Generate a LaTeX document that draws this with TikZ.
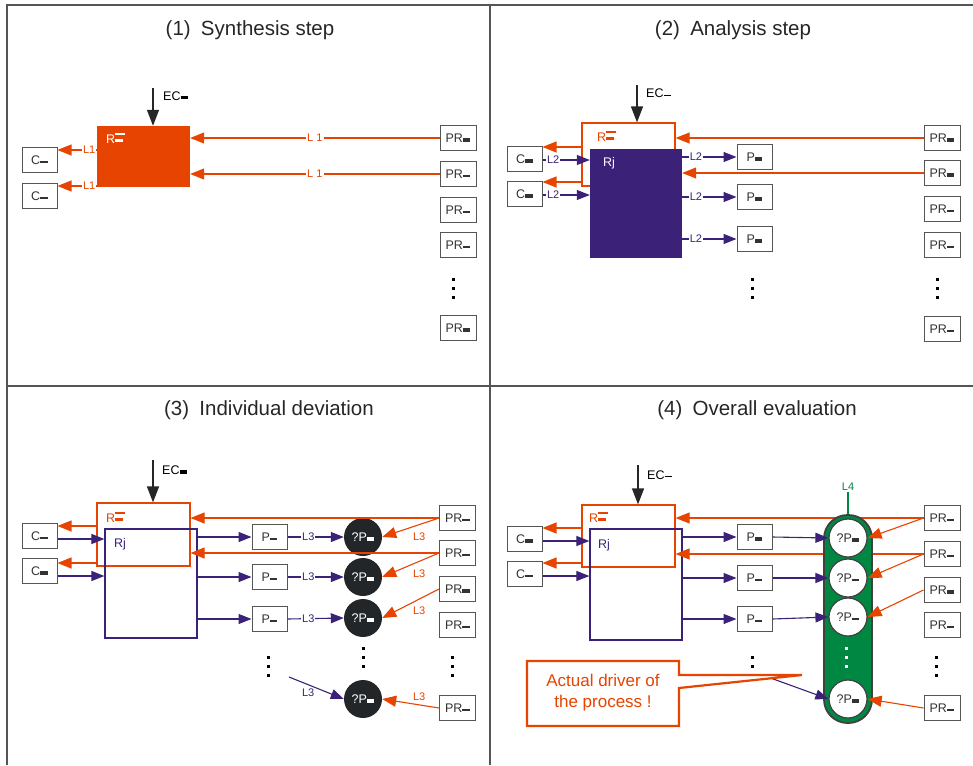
\documentclass[tikz,border=0pt]{standalone}
\usepackage{fontspec}
\setmainfont{Liberation Sans}
\usetikzlibrary{arrows.meta}
\definecolor{orng}{RGB}{230,68,0}
\definecolor{purp}{RGB}{59,34,120}
\definecolor{dark}{RGB}{35,38,41}
\definecolor{grn}{RGB}{0,135,65}
\definecolor{frm}{RGB}{85,85,85}
% little bars standing for the hidden subscripts
\newcommand{\blk}{\rule[0.5pt]{7.5pt}{3.4pt}}
\newcommand{\thn}{\rule[1.8pt]{7.5pt}{1.6pt}}
\newcommand{\rbars}{\rlap{\rule[8pt]{10pt}{1.7pt}}\rule[1pt]{8pt}{3.2pt}}
\begin{document}
\begin{tikzpicture}[x=1pt,y=-1pt,
	box/.style={draw=frm,line width=1pt,fill=white,minimum width=35pt,minimum height=25pt,inner sep=0pt,text=black!80,font=\fontsize{12.5}{14}\selectfont},
	circ/.style={circle,minimum size=38pt,inner sep=0pt,font=\fontsize{12.5}{14}\selectfont},
	tag/.style={anchor=base west,inner sep=0pt,font=\fontsize{12.5}{14}\selectfont},
	lab/.style={fill=white,inner sep=1pt,font=\fontsize{11}{13}\selectfont},
	ttl/.style={text=black!85,font=\fontsize{20.5}{24}\selectfont},
	oarr/.style={orng,line width=1.1pt,-{Triangle[length=14pt,width=11pt]}},
	parr/.style={purp,line width=1.1pt,-{Triangle[length=13pt,width=10pt]}},
	ecarr/.style={black!85,line width=1.3pt,-{Triangle[length=16pt,width=12pt]}}]
\useasboundingbox (0,0) rectangle (973,765);
\draw[frm,line width=1.5pt] (7,765) -- (7,5) -- (973,5) (490,5) -- (490,765) (7,386) -- (973,386);
\node[ttl] (t1) at (250,30) {(1)\enspace Synthesis step};
\node[ttl] (t2) at (733,30) {(2)\enspace Analysis step};
\node[ttl] (t3) at (269,410) {(3)\enspace Individual deviation};
\node[ttl] (t4) at (757,410) {(4)\enspace Overall evaluation};

% (1) synthesis
\node[fill=orng,minimum width=93pt,minimum height=61pt,inner sep=0pt] (r1) at (143.5,156.5) {};
\node[tag,text=white] (r1l) at (106,143) {R\rbars};
\node[box] (c11) at (39.5,160) {C\thn};
\node[box] (c12) at (39.5,196) {C\thn};
\foreach \y/\s [count=\i] in {138/\blk,174/\thn,210/\thn,245/\thn,328/\blk}
	\node[box,minimum width=36pt] (pr1\i) at (458,\y) {PR\s};
\foreach \d in {0,9,18} \fill (452,278+\d) rectangle +(3,3);
\coordinate (ec1) at (153,88);
\draw[ecarr] (ec1) -- (ec1 |- r1.north);
\node[tag] (ec1l) at (163,100) {EC\blk};
\draw[oarr] (r1.west |- 0,150) -- (c11.east |- 0,150) node[lab,pos=0,anchor=east,text=orng]{L1};
\draw[oarr] (r1.west |- 0,186) -- (c12.east |- 0,186) node[lab,pos=0,anchor=east,text=orng]{L1};
\draw[oarr] (pr11.west) -- (pr11.west -| r1.east) node[lab,midway,text=orng]{L 1};
\draw[oarr] (pr12.west) -- (pr12.west -| r1.east) node[lab,midway,text=orng]{L 1};

% (2) analysis
\node[draw=orng,line width=1.2pt,minimum width=93pt,minimum height=63pt,inner sep=0pt] (r2) at (628.5,154.5) {};
\node[fill=purp,minimum width=92pt,minimum height=109pt,inner sep=0pt] (rj2) at (636,203.5) {};
\node[tag,text=orng] (r2l) at (597,141) {R\rbars};
\node[tag,text=white] (rj2l) at (603,166) {Rj};
\node[box] (c21) at (524.5,159) {C\blk};
\node[box] (c22) at (524.5,194) {C\blk};
\foreach \y [count=\i] in {157,197,239}
	\node[box] (p2\i) at (754.5,\y) {P\blk};
\foreach \y/\s [count=\i] in {138/\blk,173/\blk,209/\thn,245/\thn,329/\thn}
	\node[box,minimum width=36pt] (pr2\i) at (942,\y) {PR\s};
\foreach \x in {751,936} \foreach \d in {0,9,18} \fill (\x,278+\d) rectangle +(3,3);
\coordinate (ec2) at (637,85);
\draw[ecarr] (ec2) -- (ec2 |- r2.north);
\node[tag] (ec2l) at (646,98) {EC\thn};
\draw[oarr] (r2.west |- 0,147) -- (c21.east |- 0,147);
\draw[oarr] (r2.west |- 0,182) -- (c22.east |- 0,182);
\draw[parr] (c21.east |- 0,160) -- (rj2.west |- 0,160) node[lab,pos=0,anchor=west,xshift=3pt,text=purp]{L2};
\draw[parr] (c22.east |- 0,195) -- (rj2.west |- 0,195) node[lab,pos=0,anchor=west,xshift=3pt,text=purp]{L2};
\foreach \i in {1,2,3}
	\draw[parr] (rj2.east |- p2\i) -- (p2\i.west) node[lab,pos=0,anchor=west,xshift=6pt,text=purp]{L2};
\draw[oarr] (pr21.west) -- (pr21.west -| r2.east);
\draw[oarr] (pr22.west) -- (pr22.west -| rj2.east);

% (3) individual deviation
\node[draw=orng,line width=1.2pt,minimum width=93pt,minimum height=63pt,inner sep=0pt] (r3) at (143.5,534.5) {};
\node[draw=purp,line width=1.2pt,minimum width=92pt,minimum height=109pt,inner sep=0pt] (rj3) at (151,583.5) {};
\node[tag,text=orng] (r3l) at (106,522) {R\rbars};
\node[tag,text=purp] (rj3l) at (114,547) {Rj};
\node[box] (c31) at (39.5,536) {C\thn};
\node[box] (c32) at (39.5,571) {C\blk};
\foreach \y [count=\i] in {537,577,619}
	\node[box] (p3\i) at (269.5,\y) {P\thn};
\foreach \y [count=\i] in {537,577,618,699}
	\node[circ,fill=dark,text=white] (q3\i) at (363,\y) {?P\blk};
\foreach \y/\s [count=\i] in {518/\thn,553/\thn,589/\blk,625/\thn,708/\thn}
	\node[box,minimum width=36pt] (pr3\i) at (457.5,\y) {PR\s};
\foreach \x/\y in {267/656,362/647,451/656} \foreach \d in {0,9,18} \fill (\x,\y+\d) rectangle +(3,3);
\coordinate (ec3) at (153,460);
\draw[ecarr] (ec3) -- (ec3 |- r3.north);
\node[tag] (ec3l) at (162,474) {EC\blk};
\draw[oarr] (r3.west |- 0,526) -- (c31.east |- 0,526);
\draw[oarr] (r3.west |- 0,563) -- (c32.east |- 0,563);
\draw[parr] (c31.east |- 0,539) -- (rj3.west |- 0,539);
\draw[parr] (c32.east |- 0,576) -- (rj3.west |- 0,576);
\foreach \i in {1,2,3} {
	\draw[parr] (rj3.east |- p3\i) -- (p3\i.west);
	\draw[parr] (p3\i.east) -- (q3\i.west) node[lab,pos=0.37,text=purp]{L3};
}
\coordinate (d3) at (289,677);
\draw[parr] (d3) -- (q34.west) node[pos=0.35,below=4pt,inner sep=0pt,text=purp,font=\fontsize{11}{13}\selectfont]{L3};
\draw[oarr] (pr31.west) -- (pr31.west -| r3.east);
\draw[oarr] (pr32.west) -- (pr32.west -| r3.east);
\foreach \i/\j/\o in {1/1/-12,2/2/-12,3/3/-12,5/4/8}
	\draw[oarr] (pr3\i.west) -- (q3\j.east) node[pos=0.35,yshift=\o pt,inner sep=0pt,text=orng,font=\fontsize{11}{13}\selectfont]{L3};

% (4) overall evaluation
\node[draw=orng,line width=1.2pt,minimum width=93pt,minimum height=62pt,inner sep=0pt] (r4) at (628.5,536) {};
\node[draw=purp,line width=1.2pt,minimum width=92pt,minimum height=111pt,inner sep=0pt] (rj4) at (636,584.5) {};
\node[tag,text=orng] (r4l) at (589,522) {R\rbars};
\node[tag,text=purp] (rj4l) at (598,548) {Rj};
\node[box] (c41) at (524.5,539) {C\blk};
\node[box] (c42) at (524.5,574) {C\thn};
\foreach \y/\s [count=\i] in {537/\blk,578/\thn,619/\thn}
	\node[box] (p4\i) at (754.5,\y) {P\s};
\foreach \y/\s [count=\i] in {518/\thn,554/\thn,590/\blk,625/\thn,708/\thn}
	\node[box,minimum width=36pt] (pr4\i) at (942,\y) {PR\s};
\foreach \x/\y in {751,935} \foreach \d in {0,9,18} \fill (\x,656+\d) rectangle +(3,3);
\coordinate (ec4) at (638,465);
\draw[ecarr] (ec4) -- (ec4 |- r4.north);
\node[tag] (ec4l) at (647,479) {EC\thn};
\draw[oarr] (r4.west |- 0,528) -- (c41.east |- 0,528);
\draw[oarr] (r4.west |- 0,563) -- (c42.east |- 0,563);
\draw[parr] (c41.east |- 0,541) -- (rj4.west |- 0,541);
\draw[parr] (c42.east |- 0,576) -- (rj4.west |- 0,576);
\foreach \i in {1,2,3}
	\draw[parr] (rj4.east |- p4\i) -- (p4\i.west);
\draw[oarr] (pr41.west) -- (pr41.west -| r4.east);
\draw[oarr] (pr42.west) -- (pr42.west -| r4.east);
\node[draw=black!75,line width=1.8pt,fill=grn,rounded corners=23.5pt,minimum width=48pt,minimum height=208pt,inner sep=0pt] (pill) at (848,619) {};
\node[text=grn,inner sep=1pt,font=\fontsize{11}{13}\selectfont] (l4) at (848,487) {L4};
\draw[grn,line width=1.2pt] (l4) -- (pill.north);
\foreach \y/\s [count=\i] in {538/\blk,578/\thn,617/\thn,699/\blk}
	\node[circ,draw=black!75,line width=1.2pt,fill=white,text=black!80] (q4\i) at (848,\y) {?P\s};
\foreach \d in {0,9,18} \fill[white] (845,647+\d) rectangle +(3,3);
\foreach \i in {1,2,3}
	\draw[parr] (p4\i.east) -- (q4\i.west);
\foreach \i/\j in {1/1,2/2,3/3,5/4}
	\draw[oarr] (pr4\i.west) -- (q4\j.east);
\coordinate (d4) at (765,676);
\draw[parr] (d4) -- (q44.west);
% callout
\draw[orng,line width=2.2pt,fill=white] (527,661) -- (679,661) -- (679,675) -- (802,675) -- (679,688) -- (679,726) -- (527,726) -- cycle;
\node[align=center,text=orng,font=\fontsize{17}{21}\selectfont] (drv) at (603,693) {Actual driver of\\the process !};
\end{tikzpicture}
\end{document}
